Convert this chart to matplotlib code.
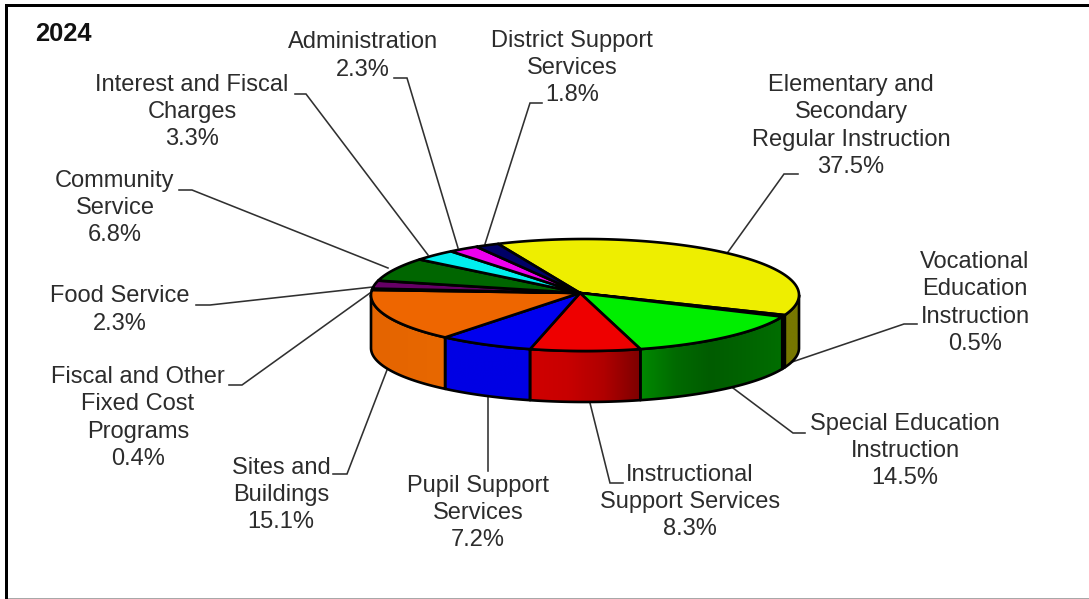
import numpy as np
import matplotlib
matplotlib.use("Agg")
import matplotlib.pyplot as plt
from matplotlib.colors import LinearSegmentedColormap
from matplotlib.patches import Polygon, Rectangle

plt.rcParams["font.family"] = ["Liberation Sans", "DejaVu Sans"]

# Budget shares, clockwise from the start of the largest slice
categories = [
    "Elementary and\nSecondary\nRegular Instruction",
    "Vocational\nEducation\nInstruction",
    "Special Education\nInstruction",
    "Instructional\nSupport Services",
    "Pupil Support\nServices",
    "Sites and\nBuildings",
    "Fiscal and Other\nFixed Cost\nPrograms",
    "Food Service",
    "Community\nService",
    "Interest and Fiscal\nCharges",
    "Administration",
    "District Support\nServices",
]
values = [37.5, 0.5, 14.5, 8.3, 7.2, 15.1, 0.4, 2.3, 6.8, 3.3, 2.3, 1.8]
top_colors = ["#eeee00", "#555500", "#00ee00", "#ee0000", "#0000ee", "#ee6600",
              "#550000", "#660066", "#006600", "#00eeee", "#ee00ee", "#000066"]
side_colors = [["#777700", "#777700"], ["#222200", "#222200"],
               ["#008a00", "#006a00", "#005c00", "#006400", "#006e00"],
               ["#d00000", "#c80000", "#b00000", "#7c0000"],
               ["#0000e4", "#0000e4"], ["#e46400", "#e86800"],
               ["#550000", "#550000"], ["#660066", "#660066"],
               ["#006600", "#006600"], ["#00aaaa", "#00aaaa"],
               ["#aa00aa", "#aa00aa"], ["#000066", "#000066"]]

# Label block centres and the leader path of each slice, in canvas pixels
label_pos = [(851, 126), (975, 303), (905, 451), (690, 502), (478, 513), (281, 495),
             (138, 418), (120, 310), (115, 208), (192, 112), (363, 56), (572, 68)]
leaders = [
    [(798, 174), (784, 174), (728, 252)],
    [(917, 324), (904, 324), (792, 362)],
    [(805, 433), (793, 433), (733, 388)],
    [(623, 483), (610, 483), (590, 403)],
    [(488, 471), (488, 397)],
    [(333, 474), (347, 474), (387, 370)],
    [(229, 385), (242, 385), (370, 293)],
    [(196, 305), (210, 305), (373, 287)],
    [(179, 190), (192, 190), (388, 268)],
    [(295, 94), (306, 94), (428, 255)],
    [(394, 78), (407, 78), (458, 248)],
    [(542, 103), (530, 103), (485, 244)],
]

START_ANGLE = -24.0
APEX = (580.0, 293.0)
TOP = (585.0, 295.0, 214.0, 56.0)      # centre x, centre y, radius x, radius y
BOTTOM = (585.0, 348.0, 214.0, 54.0)


def rim(ellipse, angles):
    """Points on an ellipse for clockwise angles measured from 12 o'clock."""
    cx, cy, rx, ry = ellipse
    rad = np.radians(angles)
    return np.column_stack([cx + rx * np.sin(rad), cy - ry * np.cos(rad)])


fig = plt.figure(figsize=(10.89, 5.99), dpi=100, facecolor="white")
ax = fig.add_axes([0, 0, 1, 1])
ax.set_xlim(0, 1089)
ax.set_ylim(599, 0)
ax.axis("off")

# Chart frame: heavy left and top rules, thin grey base
ax.add_patch(Rectangle((5, 4), 3, 595, fc="black", ec="none", zorder=1))
ax.add_patch(Rectangle((5, 4), 1084, 3, fc="black", ec="none", zorder=1))
ax.add_patch(Rectangle((8, 597.5), 1081, 1.5, fc="#a8a8a8", ec="none", zorder=1))

for path in leaders:
    xs, ys = zip(*path)
    ax.plot(xs, ys, color="#303030", lw=1.15, zorder=2, solid_joinstyle="miter")

shares = np.array(values) / sum(values) * 360.0
ends = START_ANGLE + np.cumsum(shares)
starts = ends - shares
EDGE = dict(edgecolor="black", linewidth=1.9, joinstyle="round")

# Outer wall of each slice that faces the viewer, shaded from left to right
for a0, a1, stops in zip(starts, ends, side_colors):
    lo, hi = max(a0, 90.0), min(a1, 270.0)
    if lo >= hi:
        continue
    arc = np.linspace(lo, hi, 80)
    outline = np.vstack([rim(TOP, arc), rim(BOTTOM, arc)[::-1]])
    wall = Polygon(outline, closed=True, fc="none", ec="none", zorder=3)
    ax.add_patch(wall)
    x0, x1 = outline[:, 0].min(), outline[:, 0].max()
    y0, y1 = outline[:, 1].min(), outline[:, 1].max()
    cmap = LinearSegmentedColormap.from_list("wall", stops)
    shade = ax.imshow(np.linspace(0, 1, 256)[None, :], cmap=cmap, aspect="auto",
                      extent=(x0, x1, y1, y0), zorder=3, interpolation="bilinear")
    shade.set_clip_path(wall)
    ax.add_patch(Polygon(outline, closed=True, fc="none", zorder=4, **EDGE))

# Top face
for a0, a1, colour in zip(starts, ends, top_colors):
    arc = np.linspace(a0, a1, max(int(a1 - a0) * 2, 6))
    ax.add_patch(Polygon(np.vstack([APEX, rim(TOP, arc)]), closed=True, fc=colour,
                         zorder=5, **EDGE))

ax.set_xlim(0, 1089)
ax.set_ylim(599, 0)

for name, value, (x, y) in zip(categories, values, label_pos):
    ax.text(x, y, f"{name}\n{value:.1f}%", ha="center", va="center", ma="center",
            fontsize=17, color="#2c2c2c", linespacing=1.31, zorder=6)

ax.text(35, 34, "2024", ha="left", va="center", fontsize=18.4, fontweight="bold",
        color="#111111", zorder=6)

fig.savefig("out.png", dpi=100, facecolor="white")
